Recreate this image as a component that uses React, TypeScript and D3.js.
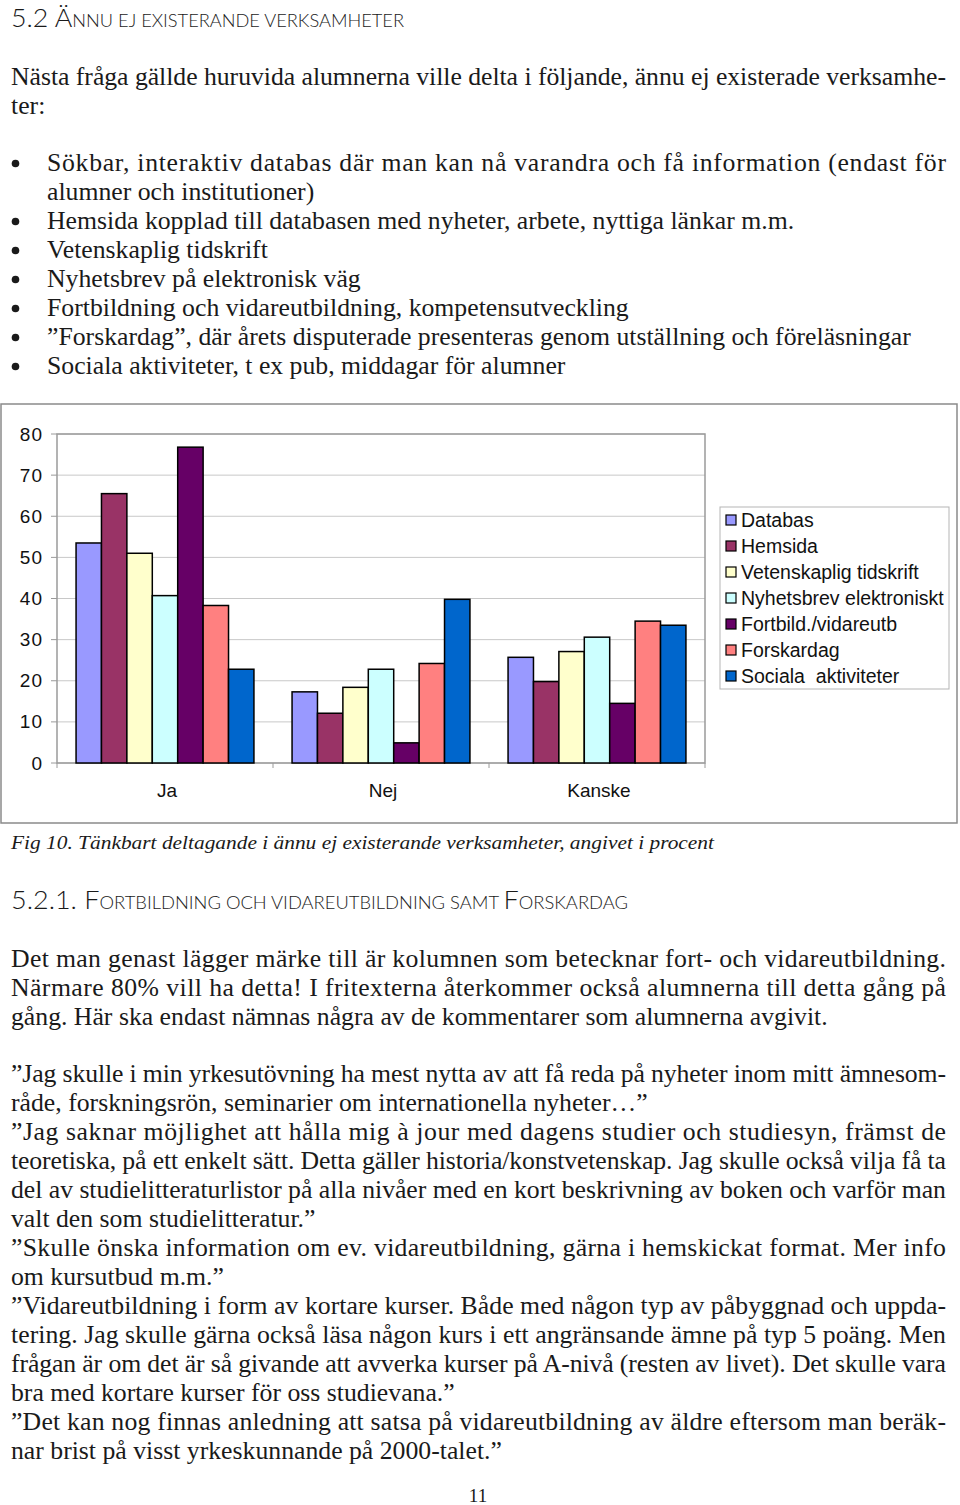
import React from 'react';
import * as d3 from 'd3';

// ---------- chart data ----------
const categories = ['Ja', 'Nej', 'Kanske'];
const seriesNames = [
  'Databas',
  'Hemsida',
  'Vetenskaplig tidskrift',
  'Nyhetsbrev elektroniskt',
  'Fortbild./vidareutb',
  'Forskardag',
  'Sociala  aktiviteter',
];
const databas = [53.5, 17.3, 25.7];
const hemsida = [65.5, 12.1, 19.8];
const vetenskaplig = [51.0, 18.4, 27.1];
const nyhetsbrev = [40.7, 22.8, 30.6];
const fortbild = [76.8, 4.9, 14.5];
const forskardag = [38.3, 24.2, 34.5];
const sociala = [22.8, 39.8, 33.5];
const seriesValues = [databas, hemsida, vetenskaplig, nyhetsbrev, fortbild, forskardag, sociala];
const seriesColors = ['#9999FF', '#993366', '#FFFFCC', '#CCFFFF', '#660066', '#FF8080', '#0066CC'];
const yTicks = [0, 10, 20, 30, 40, 50, 60, 70, 80];

// ---------- page text ----------
const heading1Big = '5.2 Ä';
const heading1Small = 'NNU EJ EXISTERANDE VERKSAMHETER';
const introLines = [
  'Nästa fråga gällde huruvida alumnerna ville delta i följande, ännu ej existerade verksamhe-',
  'ter:',
];
const bulletItems = [
  ['Sökbar, interaktiv databas där man kan nå varandra och få information (endast för', 'alumner och institutioner)'],
  ['Hemsida kopplad till databasen med nyheter, arbete, nyttiga länkar m.m.'],
  ['Vetenskaplig tidskrift'],
  ['Nyhetsbrev på elektronisk väg'],
  ['Fortbildning och vidareutbildning, kompetensutveckling'],
  ['”Forskardag”, där årets disputerade presenteras genom utställning och föreläsningar'],
  ['Sociala aktiviteter, t ex pub, middagar för alumner'],
];
const captionText = 'Fig 10. Tänkbart deltagande i ännu ej existerande verksamheter, angivet i procent';
const heading2Parts = [
  ['5.2.1. F', true],
  ['ORTBILDNING OCH VIDAREUTBILDNING SAMT ', false],
  ['F', true],
  ['ORSKARDAG', false],
] as [string, boolean][];
const para2Lines = [
  'Det man genast lägger märke till är kolumnen som betecknar fort- och vidareutbildning.',
  'Närmare 80% vill ha detta! I fritexterna återkommer också alumnerna till detta gång på',
  'gång. Här ska endast nämnas några av de kommentarer som alumnerna avgivit.',
];
const quotes = [
  ['”Jag skulle i min yrkesutövning ha mest nytta av att få reda på nyheter inom mitt ämnesom-', 'råde, forskningsrön, seminarier om internationella nyheter…”'],
  [
    '”Jag saknar möjlighet att hålla mig à jour med dagens studier och studiesyn, främst de',
    'teoretiska, på ett enkelt sätt. Detta gäller historia/konstvetenskap. Jag skulle också vilja få ta',
    'del av studielitteraturlistor på alla nivåer med en kort beskrivning av boken och varför man',
    'valt den som studielitteratur.”',
  ],
  ['”Skulle önska information om ev. vidareutbildning, gärna i hemskickat format. Mer info', 'om kursutbud m.m.”'],
  [
    '”Vidareutbildning i form av kortare kurser. Både med någon typ av påbyggnad och uppda-',
    'tering. Jag skulle gärna också läsa någon kurs i ett angränsande ämne på typ 5 poäng. Men',
    'frågan är om det är så givande att avverka kurser på A-nivå (resten av livet). Det skulle vara',
    'bra med kortare kurser för oss studievana.”',
  ],
  ['”Det kan nog finnas anledning att satsa på vidareutbildning av äldre eftersom man beräk-', 'nar brist på visst yrkeskunnande på 2000-talet.”'],
];
const pageNumber = '11';

export default function App() {
  const W = 960;
  const H = 1505;
  const serif = "'Liberation Serif', 'Times New Roman', serif";
  const sans = "'Liberation Sans', Arial, sans-serif";
  const headFont = "Lato, 'Open Sans', 'Liberation Sans', sans-serif";
  const K = 1.03; // horizontal stretch of body serif
  const FS = 25;
  const LH = 29;
  const textColor = '#1a1a1a';

  // chart geometry
  const plot = { left: 57, right: 705, top: 434, bottom: 763 };
  const x0 = d3.scaleBand<string>().domain(categories).range([plot.left, plot.right]);
  const x1 = d3
    .scaleBand<string>()
    .domain(seriesNames)
    .range([0, x0.bandwidth()])
    .paddingInner(0)
    .paddingOuter(0.75);
  const y = d3.scaleLinear().domain([0, 80]).range([plot.bottom, plot.top]);

  // body text layout
  const lines: { text: string; x: number; y: number; width?: number }[] = [];
  const textLeft = 11;
  const textRight = 946;
  const bulletLeft = 47;

  introLines.forEach((t, i) => {
    lines.push({ text: t, x: textLeft, y: 85 + i * LH, width: i < introLines.length - 1 ? textRight - textLeft : undefined });
  });
  const bulletBaselines: number[] = [];
  let row = 0;
  bulletItems.forEach((item) => {
    bulletBaselines.push(171 + row * LH);
    item.forEach((t, i) => {
      lines.push({ text: t, x: bulletLeft, y: 171 + row * LH, width: i < item.length - 1 ? textRight - bulletLeft : undefined });
      row++;
    });
  });
  para2Lines.forEach((t, i) => {
    lines.push({ text: t, x: textLeft, y: 967 + i * LH, width: i < para2Lines.length - 1 ? textRight - textLeft : undefined });
  });
  row = 0;
  quotes.forEach((q) => {
    q.forEach((t, i) => {
      lines.push({ text: t, x: textLeft, y: 1082 + row * LH, width: i < q.length - 1 ? textRight - textLeft : undefined });
      row++;
    });
  });

  const legendRowY = (i: number) => 520 + i * 26;

  return (
    <svg
      width={W}
      height={H}
      viewBox={`0 0 ${W} ${H}`}
      style={{ position: 'absolute', left: 0, top: 0, background: '#fff' }}
    >
      <rect x={0} y={0} width={W} height={H} fill="#fff" />

      {/* heading 1 */}
      <text x={11} y={27} fontFamily={headFont} fontWeight={300} fill={textColor} textLength={393} lengthAdjust="spacingAndGlyphs">
        <tspan fontSize={25}>{heading1Big}</tspan>
        <tspan fontSize={17}>{heading1Small}</tspan>
      </text>

      {/* body text */}
      <g transform={`scale(${K},1)`} fontFamily={serif} fontSize={FS} fill={textColor}>
        {lines.map((l, i) => (
          <text
            key={i}
            x={l.x / K}
            y={l.y}
            textLength={l.width ? l.width / K : undefined}
            lengthAdjust={l.width ? 'spacing' : undefined}
          >
            {l.text}
          </text>
        ))}
      </g>
      {bulletBaselines.map((b, i) => (
        <circle key={i} cx={15.5} cy={b - 7.5} r={3.8} fill={textColor} />
      ))}

      {/* chart frame */}
      <rect x={1} y={404} width={956} height={419} fill="#fff" stroke="#8a8a8a" strokeWidth={1.5} />

      {/* gridlines */}
      {yTicks.map((t) => (
        <line key={'g' + t} x1={plot.left} x2={plot.right} y1={y(t)} y2={y(t)} stroke="#c8c8c8" strokeWidth={1} />
      ))}
      {/* plot area border */}
      <rect
        x={plot.left}
        y={plot.top}
        width={plot.right - plot.left}
        height={plot.bottom - plot.top}
        fill="none"
        stroke="#9a9a9a"
        strokeWidth={1.5}
      />
      {/* y ticks */}
      {yTicks.map((t) => (
        <line key={'yt' + t} x1={plot.left - 6} x2={plot.left} y1={y(t)} y2={y(t)} stroke="#9a9a9a" strokeWidth={1} />
      ))}
      {yTicks.map((t) => (
        <text
          key={'yl' + t}
          x={43}
          y={y(t) + 6.5}
          textAnchor="end"
          fontFamily={sans}
          fontSize={19}
          letterSpacing={1}
          fill="#111"
        >
          {t}
        </text>
      ))}
      {/* x ticks at category boundaries */}
      {[...categories.map((c) => x0(c) as number), plot.right].map((xv, i) => (
        <line key={'xt' + i} x1={xv} x2={xv} y1={plot.bottom} y2={plot.bottom + 5} stroke="#9a9a9a" strokeWidth={1} />
      ))}
      {/* bars */}
      {categories.map((c, ci) => (
        <g key={c} transform={`translate(${x0(c)},0)`}>
          {seriesNames.map((s, si) => {
            const v = seriesValues[si][ci];
            return (
              <rect
                key={s}
                x={x1(s)}
                y={y(v)}
                width={x1.bandwidth()}
                height={y(0) - y(v)}
                fill={seriesColors[si]}
                stroke="#000"
                strokeWidth={1.5}
              />
            );
          })}
        </g>
      ))}
      {/* category labels */}
      {categories.map((c) => (
        <text
          key={'cl' + c}
          x={(x0(c) as number) + x0.bandwidth() / 2 + 2}
          y={797}
          textAnchor="middle"
          fontFamily={sans}
          fontSize={19}
          fill="#111"
        >
          {c}
        </text>
      ))}

      {/* legend */}
      <rect x={720} y={507} width={229} height={182} fill="#fff" stroke="#b5b5b5" strokeWidth={1} />
      {seriesNames.map((s, i) => (
        <g key={'lg' + s}>
          <rect x={726} y={legendRowY(i) - 5} width={10} height={10} fill={seriesColors[i]} stroke="#000" strokeWidth={1.2} />
          <text
            x={741}
            y={legendRowY(i) + 6.5}
            fontFamily={sans}
            fontSize={19.5}
            fill="#111"
            style={{ whiteSpace: 'pre' }}
          >
            {s}
          </text>
        </g>
      ))}

      {/* caption */}
      <text x={11} y={849} fontFamily={serif} fontStyle="italic" fontSize={19} fill={textColor} textLength={703} lengthAdjust="spacingAndGlyphs">
        {captionText}
      </text>

      {/* heading 2 */}
      <text x={11} y={909} fontFamily={headFont} fontWeight={300} fill={textColor} textLength={617} lengthAdjust="spacingAndGlyphs">
        {heading2Parts.map(([t, big], i) => (
          <tspan key={i} fontSize={big ? 25 : 17} style={{ whiteSpace: 'pre' }}>
            {t}
          </tspan>
        ))}
      </text>

      {/* page number */}
      <text x={478} y={1502} textAnchor="middle" fontFamily={serif} fontSize={19} fill={textColor}>
        {pageNumber}
      </text>
    </svg>
  );
}
